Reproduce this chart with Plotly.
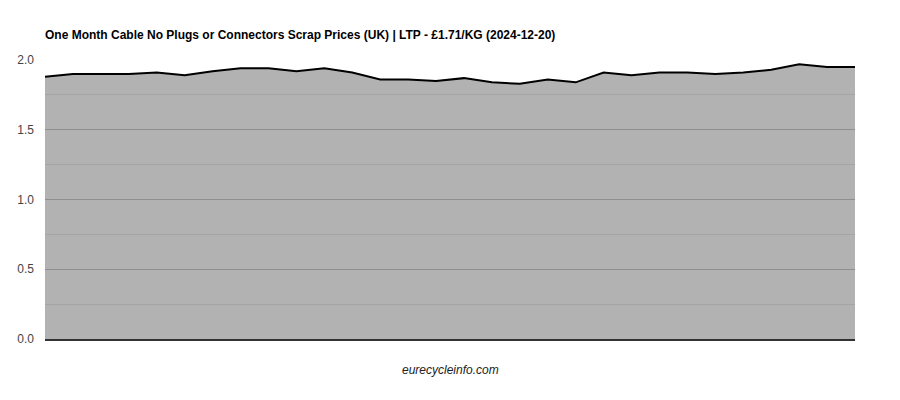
import plotly.graph_objects as go
import pandas as pd

title_text = "One Month Cable No Plugs or Connectors Scrap Prices (UK) | LTP - £1.71/KG (2024-12-20)"
source_text = "eurecycleinfo.com"

dates = [d.strftime("%Y-%m-%d") for d in pd.date_range(end="2024-12-20", periods=30, freq="D")]
prices = [1.88, 1.90, 1.90, 1.90, 1.91, 1.89, 1.92, 1.94, 1.94, 1.92,
          1.94, 1.91, 1.86, 1.86, 1.85, 1.87, 1.84, 1.83, 1.86, 1.84,
          1.91, 1.89, 1.91, 1.91, 1.90, 1.91, 1.93, 1.97, 1.95, 1.95]

y_ticks = [0, 0.5, 1.0, 1.5, 2.0]
y_labels = ["0.0", "0.5", "1.0", "1.5", "2.0"]

# page body has an 8px default margin; figure is sized to fit the window
W, H = 892, 392

fig = go.Figure()
fig.add_trace(go.Scatter(
    x=dates, y=prices, mode="lines",
    line=dict(color="#000000", width=2),
    fill="tozeroy", fillcolor="rgba(0,0,0,0.3)",
    hoverinfo="x+y", showlegend=False,
))

fig.update_layout(
    width=W, height=H,
    margin=dict(l=37, r=45, t=52, b=61, autoexpand=False),
    paper_bgcolor="white", plot_bgcolor="white",
    font=dict(family="Liberation Sans, Arial, sans-serif", size=12, color="#444"),
    title=dict(text="<b>" + title_text + "</b>", x=37 / W, xref="container", xanchor="left",
               y=1 - 27 / H, yref="container", yanchor="middle",
               font=dict(size=12, color="#000")),
    xaxis=dict(type="category", range=[0, len(dates) - 1], showgrid=False,
               showticklabels=False, ticks="", showline=True, linecolor="#333",
               linewidth=2, zeroline=False, fixedrange=True),
    yaxis=dict(range=[0, 2], tickvals=y_ticks, ticktext=y_labels, showgrid=True,
               gridcolor="#cccccc", gridwidth=1, zeroline=False, ticks="",
               ticklabelstandoff=10, automargin=False,
               minor=dict(dtick=0.25, tick0=0, showgrid=True, gridcolor="#ebebeb", gridwidth=1),
               tickfont=dict(size=12, color="#444")),
    annotations=[dict(text="<i>" + source_text + "</i>", x=0.5, xref="paper",
                      y=-(370 - 339) / 279, yref="paper", yanchor="middle",
                      showarrow=False, font=dict(size=12, color="#222"))],
)

fig.write_html("out.html")
